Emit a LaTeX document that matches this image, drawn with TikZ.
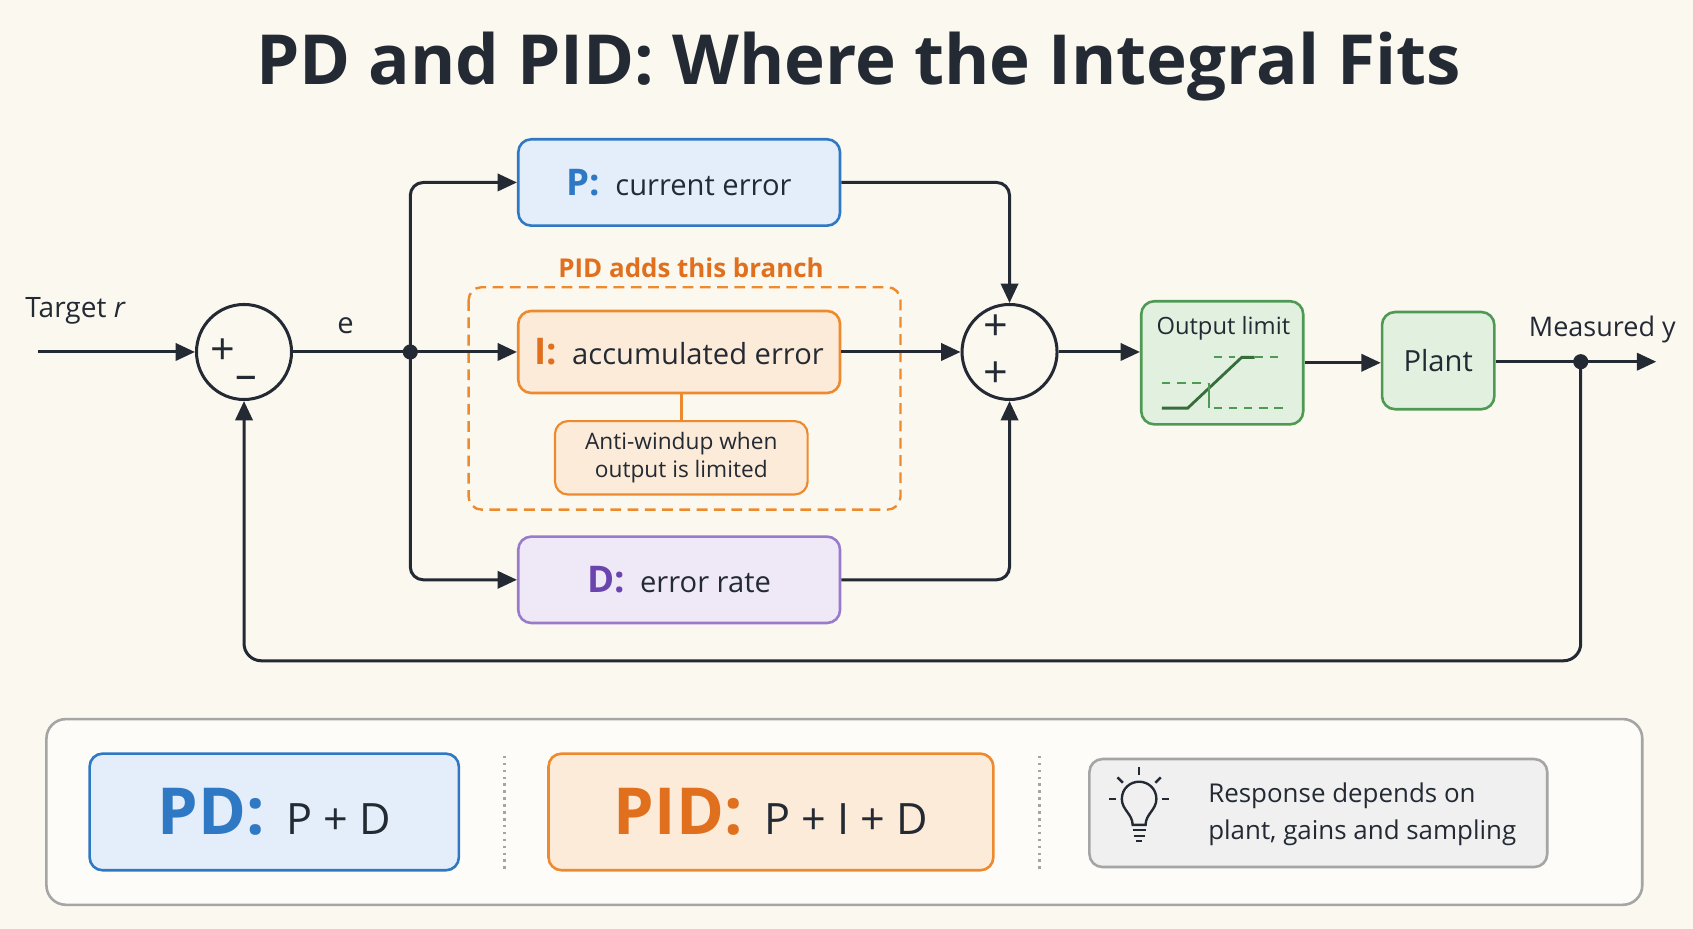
\documentclass[tikz,border=0pt]{standalone}
\usepackage{fontspec}
\setmainfont{Open Sans}
\usetikzlibrary{arrows.meta,positioning,calc}
\definecolor{bgc}{HTML}{FBF8F0}
\definecolor{pblue}{HTML}{2F78C4}
\definecolor{pbluef}{HTML}{E3EEFA}
\definecolor{iorg}{HTML}{EE8A2E}
\definecolor{iorgf}{HTML}{FCEBD8}
\definecolor{iorgt}{HTML}{E0701E}
\definecolor{dpur}{HTML}{9A7BCB}
\definecolor{dpurf}{HTML}{EEE8F7}
\definecolor{dpurt}{HTML}{6B45AE}
\definecolor{ggr}{HTML}{4E9A55}
\definecolor{ggrf}{HTML}{E2F0E0}
\definecolor{ink}{HTML}{232A33}
\definecolor{gry}{HTML}{A5A5A5}
\tikzset{
  blk/.style={draw, rounded corners=6pt, line width=1.2pt, inner sep=0pt},
  wire/.style={draw=ink, line width=1.4pt},
  arr/.style={wire, -{Triangle[length=9pt,width=8pt]}},
  sum/.style={circle, draw=ink, line width=1.4pt, minimum size=44pt, inner sep=0pt},
  sgn/.style={font=\fontsize{20}{20}\selectfont, text=ink},
  lbl/.style={font=\fontsize{13.5}{16}\selectfont, text=ink},
}
\begin{document}
\begin{tikzpicture}[x=0.5pt,y=-0.5pt]
\fill[bgc] (0,0) rectangle (1568,860);
\useasboundingbox (0,0) rectangle (1568,860);

\node[font=\fontsize{32}{38}\bfseries\selectfont, text=ink] (title) at (795,62) {PD and PID: Where the Integral Fits};

% summing junctions
\node[sum] (sumA) at (226,326) {};
\node[sgn] at (206,326) {+};
\node[sgn] at (228,355) {--};
\node[sum] (sumB) at (935,326) {};
\node[sgn] at (922,303) {+};
\node[sgn] at (922,347) {+};

% branches
\node[blk, draw=pblue, fill=pbluef, minimum width=149pt, minimum height=40pt] (pbox) at (629,169) {\fontsize{13.5}{16}\selectfont\textcolor{pblue}{\fontsize{17}{18}\selectfont\bfseries P:}\ \ \textcolor{ink}{current error}};
\node[blk, draw=iorg, fill=iorgf, minimum width=149pt, minimum height=38pt] (ibox) at (629,326) {\fontsize{13.5}{16}\selectfont\textcolor{iorgt}{\fontsize{17}{18}\selectfont\bfseries I:}\ \ \textcolor{ink}{accumulated error}};
\node[blk, draw=iorg, fill=iorgf, line width=1pt, minimum width=117pt, minimum height=34pt, align=center, font=\fontsize{10.5}{13}\selectfont, text=ink] (awbox) at (631,424) {Anti-windup when\\output is limited};
\node[blk, draw=dpur, fill=dpurf, minimum width=149pt, minimum height=40pt] (dbox) at (629,537) {\fontsize{13.5}{16}\selectfont\textcolor{dpurt}{\fontsize{17}{18}\selectfont\bfseries D:}\ \ \textcolor{ink}{error rate}};
\draw[iorg, line width=1.1pt, dashed, dash pattern=on 5pt off 3pt, rounded corners=6pt] (434,266) rectangle (834,472);
\node[font=\fontsize{12}{14}\bfseries\selectfont, text=iorgt] (pidlbl) at (640,248) {PID adds this branch};
\draw[iorg, line width=1.1pt] (ibox.south -| awbox.north) -- (awbox.north);

% output side
\node[blk, draw=ggr, fill=ggrf, minimum width=75pt, minimum height=57pt] (limbox) at (1132,336) {};
\node[font=\fontsize{11}{13}\selectfont, text=ink] at (1133,304) {Output limit};
\draw[ggr!70!black, line width=1.3pt] (1076,378) -- (1100,378) -- (1150,331) -- (1162,331);
\draw[ggr, line width=0.9pt, dashed, dash pattern=on 4pt off 3pt] (1162,331) -- (1188,331) (1124,331) -- (1144,331);
\draw[ggr, line width=0.9pt, dashed, dash pattern=on 4pt off 3pt] (1076,355) -- (1118,355);
\draw[ggr, line width=0.9pt] (1120,355) -- (1120,378);
\draw[ggr, line width=0.9pt, dashed, dash pattern=on 4pt off 3pt] (1124,378) -- (1188,378);
\node[blk, draw=ggr, fill=ggrf, minimum width=52pt, minimum height=45pt, lbl] (plant) at (1332,334) {Plant};

% signals
\node[lbl, font=\fontsize{13}{15}\selectfont] (tgt) at (70,288) {Target \textit{r}};
\coordinate (inp) at (35,326);
\coordinate (outp) at (1534,335);
\coordinate (tap) at (380,326);
\coordinate (meas) at (1464,335);
\node[lbl, font=\fontsize{12.5}{15}\selectfont] at (1484,305) {Measured y};
\node[lbl] at (320,302) {e};

\draw[arr] (inp) -- (sumA.west);
\draw[wire] (sumA.east) -- (tap);
\draw[arr] (tap) -- (ibox.west);
\draw[arr, rounded corners=6pt] (tap) |- (pbox.west);
\draw[arr, rounded corners=6pt] (tap) |- (dbox.west);
\fill[ink] (tap) circle (3.5pt);
\draw[arr, rounded corners=6pt] (pbox.east) -| (sumB.north);
\draw[arr, rounded corners=6pt] (dbox.east) -| (sumB.south);
\draw[arr] (ibox.east) -- (sumB.west);
\draw[arr] (sumB.east) -- (sumB.east -| limbox.west);
\draw[arr] (limbox.east) -- (plant.west |- limbox.east);
\draw[arr] (plant.east |- meas) -- (outp);
\draw[arr, rounded corners=8pt] (meas) -- (1464,612) -- (226,612) -- (sumA.south);
\fill[ink] (meas) circle (3.5pt);

% summary panel
\draw[gry, line width=1.2pt, fill=white!60!bgc, rounded corners=9pt] (43,666) rectangle (1521,838);
\node[blk, draw=pblue, fill=pbluef, minimum width=171pt, minimum height=54pt] (pdbox) at (254,752) {\textcolor{pblue}{\fontsize{30}{34}\bfseries\selectfont PD:}\hspace{10pt}\textcolor{ink}{\fontsize{20}{24}\selectfont P + D}};
\node[blk, draw=iorg, fill=iorgf, minimum width=206pt, minimum height=54pt] (pidbox) at (714,752) {\textcolor{iorgt}{\fontsize{30}{34}\bfseries\selectfont PID:}\hspace{10pt}\textcolor{ink}{\fontsize{20}{24}\selectfont P + I + D}};
\draw[gry, line width=1.2pt, dotted] (467,700) -- (467,805);
\draw[gry, line width=1.2pt, dotted] (963,700) -- (963,805);
\node[blk, draw=gry, fill=gray!12, minimum width=212pt, minimum height=50pt] (respbox) at (1221,753) {};
\node[anchor=west, align=left, font=\fontsize{12}{17}\selectfont, text=ink] (resptxt) at (1112,754) {Response depends on\\plant, gains and sampling};
% bulb
\begin{scope}[shift={(1055,752)}, ink, line width=1.1pt]
\draw (-6,12) .. controls (-6,2) and (-16,-2) .. (-16,-12) .. controls (-16,-22) and (-8,-28) .. (0,-28) .. controls (8,-28) and (16,-22) .. (16,-12) .. controls (16,-2) and (6,2) .. (6,12) -- cycle;
\draw (-6,17) -- (6,17) (-5,22) -- (5,22);
\draw (-3,27) -- (3,27);
\draw (0,-34) -- (0,-42) (-21,-12) -- (-28,-12) (21,-12) -- (28,-12);
\draw (-15,-27) -- (-20,-32) (15,-27) -- (20,-32);
\end{scope}
\end{tikzpicture}
\end{document}
